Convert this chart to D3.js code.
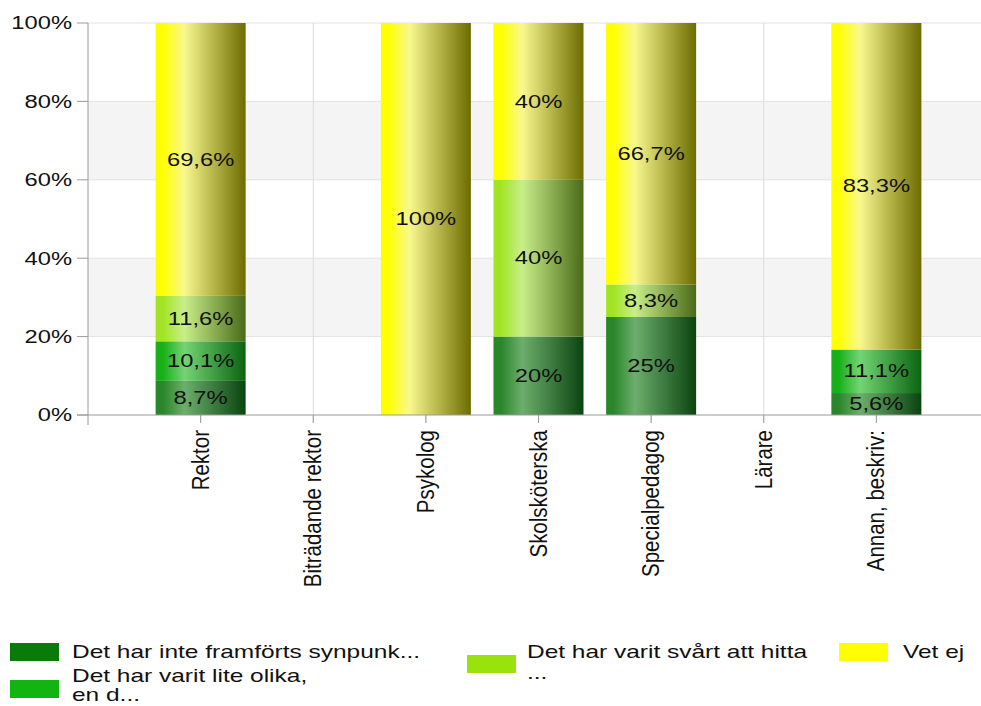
<!DOCTYPE html>
<html><head><meta charset="utf-8">
<script src="https://cdn.jsdelivr.net/npm/d3@7"></script>
<style>body{margin:0;background:#fff;} text{font-family:"Liberation Sans",Arial,sans-serif;fill:#111;}</style>
</head><body>
<svg id="chart" width="981" height="706"></svg>
<script>
const categories = ["Rektor","Biträdande rektor","Psykolog","Skolsköterska","Specialpedagog","Lärare","Annan, beskriv:"];
const seriesNames = ["Det har inte framförts synpunk...","Det har varit lite olika, en d...","Det har varit svårt att hitta ...","Vet ej"];
const s1 = [8.7, 0, 0, 20, 25, 0, 5.6];
const s2 = [10.1, 0, 0, 0, 0, 0, 11.1];
const s3 = [11.6, 0, 0, 40, 8.3, 0, 0];
const s4 = [69.6, 0, 100, 40, 66.7, 0, 83.3];
const yTicks = [0, 20, 40, 60, 80, 100];
const legendLines = [["Det har inte framförts synpunk..."],["Det har varit lite olika,","en d..."],["Det har varit svårt att hitta","..."],["Vet ej"]];
const swatchColors = ["#0a7a0a","#12b412","#99e20c","#ffff00"];
const gradStops = [
  ["#2a862a","#6cae6c","#0a4410"],
  ["#18b018","#74d474","#0a6410"],
  ["#a2e424","#c8ee8a","#4a6a18"],
  ["#ffff00","#f8f88e","#6c6c00"]
];

const svg = d3.select("#chart");
const defs = svg.append("defs");
gradStops.forEach((g,i)=>{
  const lg = defs.append("linearGradient").attr("id","g"+i).attr("x1","0%").attr("x2","100%").attr("y1","0%").attr("y2","0%");
  lg.append("stop").attr("offset","0%").attr("stop-color",g[0]);
  lg.append("stop").attr("offset","8%").attr("stop-color",g[0]);
  lg.append("stop").attr("offset","32%").attr("stop-color",g[1]);
  lg.append("stop").attr("offset","100%").attr("stop-color",g[2]);
});

const x = d3.scalePoint().domain(categories).range([88, 989]).padding(1);
const y = d3.scaleLinear().domain([0,100]).range([415, 23]);
const barW = 90;

[[20,40],[60,80]].forEach(b=>{
  svg.append("rect").attr("x",88).attr("width",981-88).attr("y",y(b[1])).attr("height",y(b[0])-y(b[1])).attr("fill","#f4f4f4");
});
yTicks.filter(t=>t>0).forEach(t=>{
  svg.append("line").attr("x1",88).attr("x2",981).attr("y1",y(t)).attr("y2",y(t)).attr("stroke","#e2e2e2");
});
categories.forEach(c=>{
  svg.append("line").attr("x1",x(c)).attr("x2",x(c)).attr("y1",y(100)).attr("y2",423).attr("stroke","#dcdcdc");
});

const data = categories.map((c,i)=>({cat:c, v:[s1[i],s2[i],s3[i],s4[i]]}));
const stack = d3.stack().keys([0,1,2,3]).value((d,k)=>d.v[k]);
const layers = stack(data);
layers.forEach((layer,k)=>{
  layer.forEach(seg=>{
    const v = seg.data.v[k];
    if(!v) return;
    svg.append("rect").attr("x",x(seg.data.cat)-barW/2).attr("width",barW)
      .attr("y",y(seg[1])).attr("height",y(seg[0])-y(seg[1])).attr("fill","url(#g"+k+")");
  });
});
layers.forEach((layer,k)=>{
  layer.forEach(seg=>{
    const v = seg.data.v[k];
    if(!v) return;
    const cx = x(seg.data.cat), cy = y((seg[0]+seg[1])/2);
    svg.append("text").attr("transform",`translate(${cx},${cy}) scale(1.25,1)`)
      .attr("text-anchor","middle").attr("dominant-baseline","central")
      .style("font-size","19px").text(String(v).replace(".",",")+"%");
  });
});

svg.append("line").attr("x1",88).attr("x2",88).attr("y1",y(100)).attr("y2",425).attr("stroke","#9a9a9a");
svg.append("line").attr("x1",77).attr("x2",981).attr("y1",415).attr("y2",415).attr("stroke","#9a9a9a");
yTicks.forEach(t=>{
  svg.append("line").attr("x1",77).attr("x2",88).attr("y1",y(t)).attr("y2",y(t)).attr("stroke","#9a9a9a");
  svg.append("text").attr("transform",`translate(72,${y(t)}) scale(1.32,1)`)
    .attr("text-anchor","end").attr("dominant-baseline","central")
    .style("font-size","18px").text(t+"%");
});
categories.forEach(c=>{
  svg.append("line").attr("x1",x(c)).attr("x2",x(c)).attr("y1",415).attr("y2",423).attr("stroke","#9a9a9a");
  svg.append("text").attr("transform",`translate(${x(c)},430) scale(1.15,1) rotate(-90)`)
    .attr("text-anchor","end").attr("dominant-baseline","central")
    .style("font-size","20.5px").text(c);
});

const legendPos = [
  {sx:10, sy:643, tx:72, ty:658, lh:21},
  {sx:10, sy:680, tx:72, ty:682, lh:19},
  {sx:467, sy:655, tx:527, ty:658, lh:21},
  {sx:839, sy:643, tx:903, ty:658, lh:21}
];
legendPos.forEach((p,i)=>{
  svg.append("rect").attr("x",p.sx).attr("y",p.sy).attr("width",49).attr("height",18).attr("fill",swatchColors[i]);
  legendLines[i].forEach((ln,j)=>{
    svg.append("text").attr("transform",`translate(${p.tx},${p.ty + j*p.lh}) scale(1.36,1)`)
      .style("font-size","18px").text(ln);
  });
});
</script>
</body></html>
